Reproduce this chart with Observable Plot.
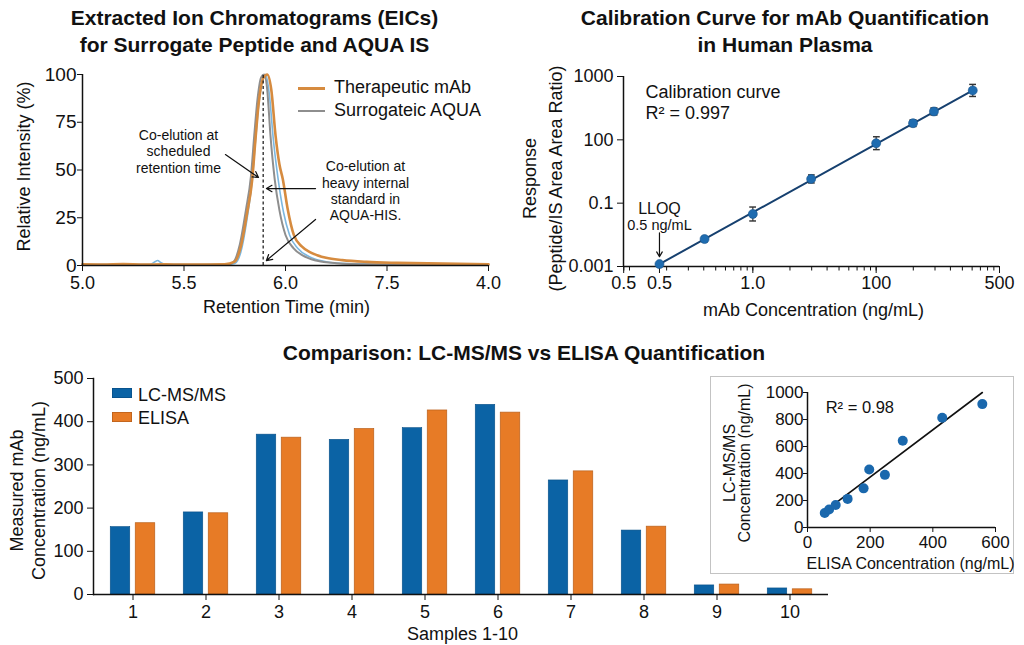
<!DOCTYPE html>
<html><head><meta charset="utf-8">
<script src="https://cdn.jsdelivr.net/npm/d3@7"></script>
<script src="https://cdn.jsdelivr.net/npm/@observablehq/plot@0.6"></script>
<style>
body{margin:0;background:#fff;}
#root{position:relative;width:1024px;height:645px;overflow:hidden;font-family:"Liberation Sans",Arial,Helvetica,sans-serif;color:#111;}
.abs{position:absolute;}
.title{position:absolute;font-weight:bold;font-size:21px;line-height:26.5px;text-align:center;white-space:nowrap;transform:translateX(-50%);}
.leg{position:absolute;font-size:18px;line-height:20px;height:20px;white-space:nowrap;}
</style></head><body><div id="root"></div>
<script>
// ---------- Panel A: extracted ion chromatograms ----------
const mabTime = [5.00,5.10,5.20,5.30,5.40,5.50,5.60,5.70,5.75,5.78,5.81,5.836,5.852,5.868,5.89,5.91,5.93,5.951,5.97,5.987,6.01,6.041,6.08,6.12,6.156,6.20,6.28,6.40,6.55,6.70,6.85,7.00];
const mabIntensity = [0.6,0.5,0.7,0.5,0.6,0.5,0.5,0.6,2,10,27,45,66,85,98,100,92,68,53,45,30,16,10,7,5.4,4,2.8,1.9,1.4,1.1,0.9,0.6];
const aquaTime = [5.00,5.30,5.60,5.72,5.745,5.775,5.805,5.83,5.846,5.862,5.88,5.895,5.91,5.926,5.947,5.97,6.00,6.04,6.082,6.15,6.25,6.40,6.70,7.00];
const aquaIntensity = [0.4,0.4,0.4,0.6,2,11,29,47,68,87,98.5,100,92,68,45,29,16,9,5.4,2.6,1.2,0.6,0.4,0.3];
const lightTime = [5.00,5.20,5.33,5.355,5.37,5.385,5.41,5.60,5.72,5.75,5.78,5.81,5.836,5.852,5.87,5.89,5.902,5.92,5.94,5.964,5.99,6.02,6.06,6.12,6.20,6.30,6.50,7.00];
const lightIntensity = [0.5,0.5,0.5,1.8,2.6,1.6,0.6,0.5,0.5,1,7,24,45,65,86,98,100,90,66,45,28,16,9,4.5,2,1,0.6,0.4];
const rtTicks = [5, 5.5, 6, 6.5, 7];
const rtTickLabels = ["5.0", "5.5", "6.0", "7.5", "4.0"];
const intensityTicks = [0, 25, 50, 75, 100];
const coElutionRT = 5.89;
const chromNotes = [
  {t: 5.473, v: 59.9, label: "Co-elution at\nscheduled\nretention time"},
  {t: 6.394, v: 39.3, label: "Co-elution at\nheavy internal\nstandard in\nAQUA-HIS."}
];
const chromArrows = [
  {t1: 5.704, v1: 58.1, t2: 5.867, v2: 46.1},
  {t1: 6.148, v1: 40.3, t2: 5.906, v2: 40.3},
  {t1: 6.148, v1: 24.1, t2: 5.906, v2: 2.6}
];

// ---------- Panel B: calibration curve ----------
const calConc = [0.175, 0.406, 1, 2.97, 10, 19.9, 29.4, 60.7];
const calResponse = [0.00119, 0.00736, 0.0455, 0.583, 7.8, 33.5, 78.7, 363];
const calLow = [0.00119, 0.0061, 0.0274, 0.435, 4.9, 26.4, 61, 234];
const calHigh = [0.00119, 0.0088, 0.0755, 0.78, 12.5, 42.5, 101.5, 563];
const calFitConc = [0.175, 60.7];
const calFitResponse = [0.00119, 363];
const calXDomain = [0.0894, 100];
const calYDomain = [0.001, 1000];
const calXTicks = [0.0897, 0.175, 1, 10, 100];
const calXTickLabels = ["0.5", "0.5", "1.0", "100", "500"];
const calYTicks = [0.001, 0.1, 10, 1000];
const calYTickLabels = ["0.001", "0.1", "100", "1000"];
const lloqNote = {x: 0.175, yTitle: 0.067, ySub: 0.0194, yFrom: 0.0116, yTo: 0.00203};

// ---------- Panel C: LC-MS/MS vs ELISA ----------
const samples = ["1","2","3","4","5","6","7","8","9","10"];
const lcmsValues = [156, 190, 370, 358, 385, 439, 264, 148, 21, 14];
const elisaValues = [165, 188, 363, 383, 426, 421, 285, 157, 23, 12];
const barTicks = [0, 100, 200, 300, 400, 500];

// ---------- Panel D: correlation inset ----------
const elisaConc = [55, 69, 90, 128, 179, 197, 247, 304, 430, 558];
const lcmsConc = [108, 133, 167, 212, 290, 430, 390, 643, 813, 914];
const corrFitX = [55, 558];
const corrFitY = [120, 1000];
const corrR2 = {x: 58, y: 887};
const corrXTicks = [0, 200, 400, 600];
const corrYTicks = [0, 200, 400, 600, 800, 1000];

// ---------- helpers ----------
const FONT = '"Liberation Sans", Arial, Helvetica, sans-serif';
const INK = "#111";
const root = document.getElementById("root");
function put(node, left, top, cls) {
  const d = document.createElement("div");
  d.className = cls || "abs";
  d.style.left = left + "px"; d.style.top = top + "px";
  if (typeof node === "string") d.textContent = node; else d.appendChild(node);
  root.appendChild(d); return d;
}
function axisTitle(label, o) {
  return Plot.text([label], {text: d => d, frameAnchor: o.anchor, rotate: o.rotate || 0,
    dx: o.dx || 0, dy: o.dy || 0, fontSize: o.fontSize || 18, lineHeight: o.lineHeight || 1.2,
    textAnchor: "middle", lineAnchor: "middle", fill: INK});
}
const baseStyle = (fs) => ({fontFamily: FONT, fontSize: fs + "px", color: INK, background: "transparent", overflow: "visible"});

// ---------- Titles ----------
put("Extracted Ion Chromatograms (EICs)\nfor Surrogate Peptide and AQUA IS", 254.5, 5, "title").style.whiteSpace = "pre";
put("Calibration Curve for mAb Quantification\nin Human Plasma", 785, 5, "title").style.whiteSpace = "pre";
put("Comparison: LC-MS/MS vs ELISA Quantification", 524, 340, "title");

// ---------- Panel A ----------
const toRows = (ts, vs, trace) => ts.map((t, i) => ({t, v: vs[i], trace}));
const rtLabel = new Map(rtTicks.map((t, i) => [t, rtTickLabels[i]]));
const pA = Plot.plot({
  width: 500, height: 260, marginLeft: 82, marginRight: 12, marginTop: 14, marginBottom: 55,
  style: baseStyle(18),
  x: {domain: [5, 7]}, y: {domain: [0, 100]},
  marks: [
    Plot.line(toRows(lightTime, lightIntensity, "light"), {x: "t", y: "v", stroke: "#7cb7df", strokeWidth: 1.6, curve: "monotone-x"}),
    Plot.line(toRows(aquaTime, aquaIntensity, "aqua"), {x: "t", y: "v", stroke: "#8e8e8e", strokeWidth: 2, curve: "monotone-x"}),
    Plot.line(toRows(mabTime, mabIntensity, "mab"), {x: "t", y: "v", stroke: "#d68b3f", strokeWidth: 2.6, curve: "monotone-x"}),
    Plot.ruleX([coElutionRT], {y1: 0, y2: 100, stroke: INK, strokeWidth: 1.2, strokeDasharray: "3,2.5"}),
    Plot.ruleY([0], {stroke: INK, strokeWidth: 1.5}),
    Plot.ruleX([5], {stroke: INK, strokeWidth: 1.5}),
    Plot.axisX({ticks: rtTicks, tickFormat: d => rtLabel.get(d), tickSize: 6, tickPadding: 5, label: null}),
    Plot.axisY({ticks: intensityTicks, tickSize: 5, tickPadding: 1, label: null, fontSize: 19}),
    Plot.text(chromNotes, {x: "t", y: "v", text: "label", fontSize: 14, lineHeight: 1.16, lineAnchor: "middle", textAnchor: "middle", fill: INK}),
    Plot.arrow(chromArrows, {x1: "t1", y1: "v1", x2: "t2", y2: "v2", stroke: INK, strokeWidth: 1.2, headLength: 8}),
    axisTitle("Retention Time (min)", {anchor: "bottom", dx: 1, dy: 41}),
    axisTitle("Relative Intensity (%)", {anchor: "left", rotate: -90, dx: -59.5, dy: -3.5})
  ]
});
put(pA, 0, 60);
// legend A
const lA1 = put(document.createElement("span"), 298, 86.5); lA1.style.cssText += "width:27px;height:3px;background:#d68b3f;";
const lA2 = put(document.createElement("span"), 298, 110); lA2.style.cssText += "width:27px;height:2px;background:#8e8e8e;";
put("Therapeutic mAb", 334, 77, "leg");
put("Surrogateic AQUA", 334, 100, "leg");

// ---------- Panel B ----------
const calRows = calConc.map((c, i) => ({c, r: calResponse[i], lo: calLow[i], hi: calHigh[i]}));
const calFit = calFitConc.map((c, i) => ({c, r: calFitResponse[i]}));
const calXTickRows = calXTicks.map((t, i) => ({t, label: calXTickLabels[i]}));
const calYLabel = new Map(calYTicks.map((t, i) => [t, calYTickLabels[i]]));
const minorTicks = d3.scaleLog().domain(calXDomain).ticks();
const pB = Plot.plot({
  width: 524, height: 260, marginLeft: 123, marginRight: 25, marginTop: 16, marginBottom: 54,
  style: baseStyle(18),
  x: {type: "log", domain: calXDomain}, y: {type: "log", domain: calYDomain},
  marks: [
    Plot.ruleY([calYDomain[0]], {stroke: INK, strokeWidth: 1.5}),
    Plot.ruleX([calXDomain[0]], {stroke: INK, strokeWidth: 1.5}),
    Plot.axisX({ticks: minorTicks, tickFormat: () => "", tickSize: 4.5, label: null}),
    Plot.axisX({ticks: calXTicks, tickFormat: () => "", tickSize: 7, label: null}),
    Plot.text(calXTickRows, {x: "t", text: "label", frameAnchor: "bottom", dy: 17, lineAnchor: "middle", textAnchor: "middle", fill: INK}),
    Plot.axisY({ticks: calYTicks, tickFormat: d => calYLabel.get(d), tickSize: 6, tickPadding: 4, label: null}),
    Plot.line(calFit, {x: "c", y: "r", stroke: "#16406f", strokeWidth: 2}),
    Plot.link(calRows.filter(d => d.hi > d.lo), {x1: "c", x2: "c", y1: "lo", y2: "hi", stroke: "#333", strokeWidth: 1.2, markerStart: "tick", markerEnd: "tick"}),
    Plot.dot(calRows, {x: "c", y: "r", r: 4.5, fill: "#1f6cb0", stroke: "#17528a", strokeWidth: 0.6}),
    Plot.text(["Calibration curve\nR² = 0.997"], {text: d => d, frameAnchor: "top-left", dx: 22, dy: 7, fontSize: 18, lineHeight: 1.15, textAnchor: "start", lineAnchor: "top", fill: INK}),
    Plot.text([lloqNote], {x: "x", y: "yTitle", text: () => "LLOQ", fontSize: 16, fill: INK}),
    Plot.text([lloqNote], {x: "x", y: "ySub", text: () => "0.5 ng/mL", fontSize: 14.5, fill: INK}),
    Plot.arrow([lloqNote], {x1: "x", x2: "x", y1: "yFrom", y2: "yTo", stroke: INK, strokeWidth: 1.2, headLength: 7}),
    axisTitle("mAb Concentration (ng/mL)", {anchor: "bottom", dx: 2, dy: 43}),
    axisTitle("Response\n(Peptide/IS Area Area Ratio)", {anchor: "left", rotate: -90, dx: -83, dy: 7, lineHeight: 1.44})
  ]
});
put(pB, 500, 60);

// ---------- Panel C ----------
const barRows = samples.map((s, i) => ({sample: s, lcms: lcmsValues[i], elisa: elisaValues[i]}));
const C = {w: 840, h: 280, ml: 93, mr: 12, mt: 13, mb: 51};
const bw = (C.w - C.ml - C.mr) / samples.length;
const barW = 20, barGap = 5;
const BLUE = "#0b63a5", ORANGE = "#e77b26";
const marksC = [
  Plot.barY(barRows, {x: "sample", y: "lcms", fill: BLUE, stroke: "#084f87", strokeWidth: 0.6,
    insetLeft: bw / 2 - barGap / 2 - barW, insetRight: bw / 2 + barGap / 2}),
  Plot.barY(barRows, {x: "sample", y: "elisa", fill: ORANGE, stroke: "#b9601c", strokeWidth: 0.7,
    insetLeft: bw / 2 + barGap / 2, insetRight: bw / 2 - barGap / 2 - barW}),
  Plot.ruleY([0], {stroke: INK, strokeWidth: 1.5}),
  Plot.axisX({tickSize: 6, tickPadding: 5, label: null}),
  Plot.axisY({ticks: barTicks, tickSize: 6, tickPadding: 4, label: null}),
  axisTitle("Samples 1-10", {anchor: "bottom", dx: 1.5, dy: 38.5}),
  axisTitle("Measured mAb\nConcentration (ng/mL)", {anchor: "left", rotate: -90, dx: -67, dy: 4, lineHeight: 1.22})
];
let frameLeft;
try { frameLeft = Plot.frame({anchor: "left", stroke: INK, strokeWidth: 1.5}); } catch (e) { frameLeft = null; }
if (frameLeft) marksC.push(frameLeft);
const pC = Plot.plot({
  width: C.w, height: C.h, marginLeft: C.ml, marginRight: C.mr, marginTop: C.mt, marginBottom: C.mb,
  style: baseStyle(18),
  x: {domain: samples, padding: 0}, y: {domain: [0, 500]},
  marks: marksC
});
put(pC, 0, 365);
// legend C
const sw1 = put(document.createElement("span"), 112, 388); sw1.style.cssText += `width:20px;height:10px;background:${BLUE};box-shadow:inset 0 0 0 0.7px #084f87;`;
const sw2 = put(document.createElement("span"), 112, 412); sw2.style.cssText += `width:20px;height:10px;background:${ORANGE};box-shadow:inset 0 0 0 0.8px #b9601c;`;
put("LC-MS/MS", 138, 385, "leg");
put("ELISA", 138, 408, "leg");

// ---------- Panel D (inset) ----------
const corrRows = elisaConc.map((x, i) => ({x, y: lcmsConc[i]}));
const corrFit = corrFitX.map((x, i) => ({x, y: corrFitY[i]}));
const pD = Plot.plot({
  width: 302, height: 196, marginLeft: 96, marginRight: 18, marginTop: 15, marginBottom: 46,
  style: baseStyle(17),
  x: {domain: [0, 600]}, y: {domain: [0, 1000]},
  marks: [
    Plot.ruleY([0], {stroke: INK, strokeWidth: 1.5}),
    Plot.ruleX([0], {stroke: INK, strokeWidth: 1.5}),
    Plot.axisX({ticks: corrXTicks, tickFormat: d => String(d), tickSize: 5, tickPadding: 3, label: null}),
    Plot.axisY({ticks: corrYTicks, tickFormat: d => String(d), tickSize: 4, tickPadding: 0, label: null}),
    Plot.line(corrFit, {x: "x", y: "y", stroke: INK, strokeWidth: 1.6}),
    Plot.dot(corrRows, {x: "x", y: "y", r: 5, fill: "#1a68ad"}),
    Plot.text([corrR2], {x: "x", y: "y", text: () => "R² = 0.98", fontSize: 16.5, textAnchor: "start", fill: INK}),
    axisTitle("ELISA Concentration (ng/mL)", {anchor: "bottom", dx: 9, dy: 35, fontSize: 16}),
    axisTitle("LC-MS/MS\nConcentration (ng/mL)", {anchor: "left", rotate: -90, dx: -70, dy: 3, fontSize: 16, lineHeight: 0.98})
  ]
});
const box = put(pD, 710, 376);
box.style.cssText += "width:304px;height:198px;box-sizing:border-box;border:1px solid #c3c3c3;background:#fff;";
</script></body></html>
